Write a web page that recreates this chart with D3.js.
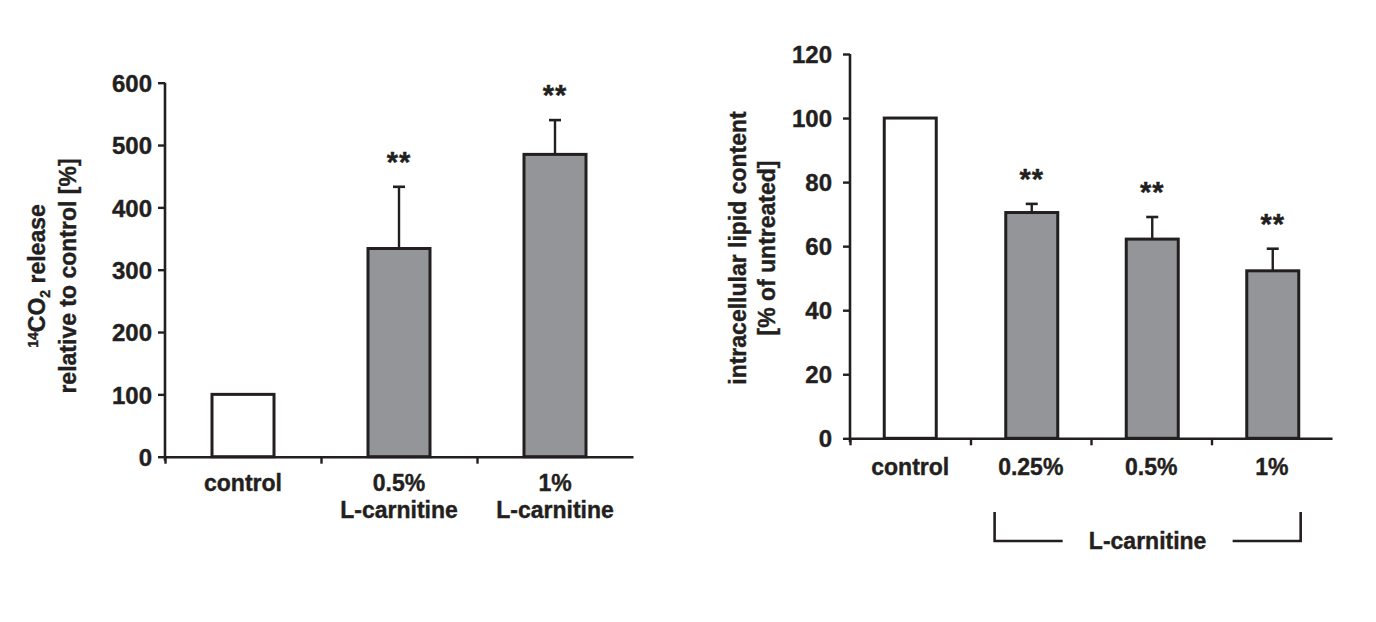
<!DOCTYPE html>
<html>
<head>
<meta charset="utf-8">
<script src="https://cdn.jsdelivr.net/npm/d3@7"></script>
<style>
  body { margin: 0; background: #fff; }
  svg text { font-family: "Liberation Sans", Arial, sans-serif; font-weight: bold; fill: #231f20; stroke: #231f20; stroke-width: 0.4px; }
</style>
</head>
<body>
<div id="wrapper"></div>
<script>
// left panel: 14CO2 release
const co2Categories = ["control", "0.5%", "1%"];
const co2Labels = [["control"], ["0.5%", "L-carnitine"], ["1%", "L-carnitine"]];
const co2Values = [100, 334, 485];
const co2Errors = [0, 99, 55];
const co2Stars = ["", "**", "**"];
const co2Ticks = [0, 100, 200, 300, 400, 500, 600];

// right panel: lipid content
const lipidCategories = ["control", "0.25%", "0.5%", "1%"];
const lipidValues = [100, 70.5, 62.2, 52.3];
const lipidErrors = [0, 2.7, 6.9, 6.9];
const lipidStars = ["", "**", "**", "**"];
const lipidTicks = [0, 20, 40, 60, 80, 100, 120];

const ink = "#231f20";
const barGray = "#939598";

const svg = d3.select("#wrapper")
    .append("svg")
    .attr("width", 1376)
    .attr("height", 622);

function drawPanel(opts) {
    const g = svg.append("g");

    const yScale = d3.scaleLinear()
        .domain([0, opts.yMax])
        .range([opts.bottom, opts.top]);

    const xScale = d3.scaleBand()
        .domain(opts.categories)
        .range([opts.left, opts.right]);

    const edgeScale = d3.scaleLinear()
        .domain([0, opts.categories.length])
        .range([opts.left, opts.right]);

    // y axis
    const yAxis = g.append("g")
        .attr("transform", `translate(${opts.left},0)`)
        .call(d3.axisLeft(yScale).tickValues(opts.ticks).tickSize(7).tickPadding(opts.tickPad).tickSizeOuter(0));
    yAxis.select(".domain").remove();
    yAxis.append("line")
        .attr("x1", 0).attr("x2", 0)
        .attr("y1", opts.top).attr("y2", opts.bottom + 4)
        .attr("stroke", ink).attr("stroke-width", 2.6);
    yAxis.selectAll(".tick line").attr("stroke", ink).attr("stroke-width", 2.4);
    yAxis.selectAll(".tick text")
        .style("font-size", "24px")
        .attr("dy", "0.36em")
        .attr("fill", ink);

    // x axis (ticks at band edges)
    const xAxis = g.append("g")
        .attr("transform", `translate(0,${opts.bottom})`)
        .call(d3.axisBottom(edgeScale).tickValues(d3.range(opts.categories.length)).tickSize(7).tickFormat("").tickSizeOuter(0));
    xAxis.select(".domain").attr("stroke", ink).attr("stroke-width", 2.6);
    xAxis.selectAll(".tick line").attr("stroke", ink).attr("stroke-width", 2.4);

    const barW = opts.barWidth;
    const cx = d => xScale(d) + xScale.bandwidth() / 2 + (opts.shift ? opts.shift(d) : 0);

    const data = opts.categories.map((c, i) => ({
        cat: c, value: opts.values[i], err: opts.errors[i], star: opts.stars[i],
    }));

    // error bars (upper only)
    const errs = g.selectAll(".err").data(data.filter(d => d.err > 0)).enter().append("g").attr("class", "err");
    errs.append("line")
        .attr("x1", d => cx(d.cat)).attr("x2", d => cx(d.cat))
        .attr("y1", d => yScale(d.value)).attr("y2", d => yScale(d.value + d.err))
        .attr("stroke", ink).attr("stroke-width", 2.4);
    errs.append("line")
        .attr("x1", d => cx(d.cat) - 6).attr("x2", d => cx(d.cat) + 6)
        .attr("y1", d => yScale(d.value + d.err)).attr("y2", d => yScale(d.value + d.err))
        .attr("stroke", ink).attr("stroke-width", 2.6);

    // bars
    g.selectAll(".bar").data(data).enter().append("rect")
        .attr("class", "bar")
        .attr("x", d => cx(d.cat) - barW / 2)
        .attr("y", d => yScale(d.value))
        .attr("width", barW)
        .attr("height", d => opts.bottom - yScale(d.value))
        .attr("fill", (d, i) => i === 0 ? "#fff" : barGray)
        .attr("stroke", ink)
        .attr("stroke-width", 3);

    // significance stars
    g.selectAll(".star").data(data.filter(d => d.star)).enter().append("text")
        .attr("class", "star")
        .attr("x", d => cx(d.cat))
        .attr("y", d => yScale(d.value + d.err) - 32 + 17)
        .attr("text-anchor", "middle")
        .style("font-size", "29px")
        .style("letter-spacing", "1px")
        .text(d => d.star);

    return { xScale, yScale, g };
}

// ---- left panel
const left = drawPanel({
    categories: co2Categories, values: co2Values, errors: co2Errors, stars: co2Stars,
    ticks: co2Ticks, yMax: 600, top: 82.7, bottom: 456.7, left: 165, right: 633,
    barWidth: 62, tickPad: 6,
});

co2Labels.forEach((lines, i) => {
    const x = left.xScale(co2Categories[i]) + left.xScale.bandwidth() / 2;
    lines.forEach((t, j) => {
        left.g.append("text")
            .attr("x", x)
            .attr("y", 491 + j * 26.7)
            .attr("text-anchor", "middle")
            .style("font-size", "23px")
            .text(t);
    });
});

const co2Title = left.g.append("text")
    .attr("transform", "translate(45,276) rotate(-90)")
    .attr("text-anchor", "middle")
    .style("font-size", "23px");
co2Title.append("tspan").style("font-size", "14px").attr("dy", "-7").text("14");
co2Title.append("tspan").attr("dy", "7").text("CO");
co2Title.append("tspan").style("font-size", "14px").attr("dy", "5").text("2");
co2Title.append("tspan").attr("dy", "-5").text(" release");

left.g.append("text")
    .attr("transform", "translate(76,276) rotate(-90)")
    .attr("text-anchor", "middle")
    .style("font-size", "23px")
    .text("relative to control [%]");

// ---- right panel
const right = drawPanel({
    categories: lipidCategories, values: lipidValues, errors: lipidErrors, stars: lipidStars,
    ticks: lipidTicks, yMax: 120, top: 54, bottom: 438.3, left: 850, right: 1332,
    barWidth: 52, tickPad: 11, shift: d => d === "control" ? 0 : 1,
});

lipidCategories.forEach(c => {
    right.g.append("text")
        .attr("x", right.xScale(c) + right.xScale.bandwidth() / 2)
        .attr("y", 475)
        .attr("text-anchor", "middle")
        .style("font-size", "23px")
        .text(c);
});

right.g.append("text")
    .attr("transform", "translate(746,248) rotate(-90)")
    .attr("text-anchor", "middle")
    .style("font-size", "23px")
    .text("intracellular lipid content");
right.g.append("text")
    .attr("transform", "translate(775,248) rotate(-90)")
    .attr("text-anchor", "middle")
    .style("font-size", "23px")
    .text("[% of untreated]");

// bracket under the L-carnitine groups
const bw = right.xScale.bandwidth();
const bx1 = right.xScale("0.25%") + bw * 0.2;
const bx2 = right.xScale("1%") + bw * 0.74;
const by1 = 512, by2 = 541;
const bMid = (bx1 + bx2) / 2;
right.g.append("path")
    .attr("d", `M${bx1},${by1}V${by2}H${bMid - 85}`)
    .attr("fill", "none").attr("stroke", ink).attr("stroke-width", 2.6);
right.g.append("path")
    .attr("d", `M${bMid + 85},${by2}H${bx2}V${by1}`)
    .attr("fill", "none").attr("stroke", ink).attr("stroke-width", 2.6);
right.g.append("text")
    .attr("x", bMid)
    .attr("y", 549)
    .attr("text-anchor", "middle")
    .style("font-size", "23px")
    .text("L-carnitine");
</script>
</body>
</html>
